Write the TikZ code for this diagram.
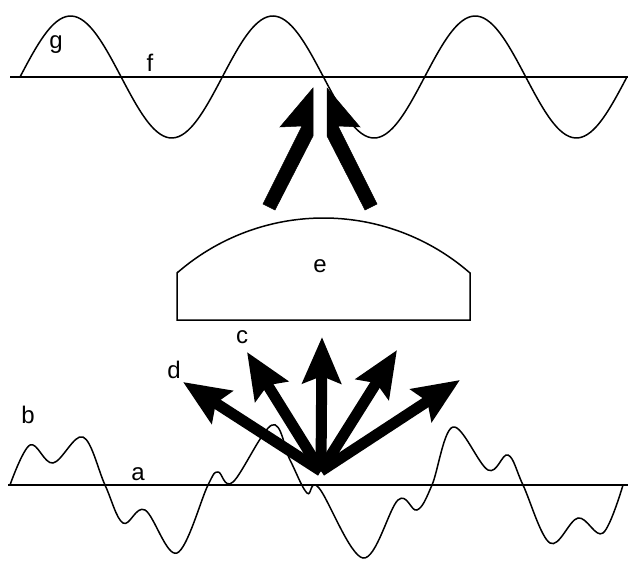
\documentclass[tikz,border=0pt]{standalone}
\usepackage{fontspec}
\setmainfont{Liberation Sans}
\usetikzlibrary{arrows.meta}
\begin{document}
\begin{tikzpicture}[x=1pt,y=-1pt,
  wave/.style={line width=1.5pt},
  axisline/.style={line width=2pt},
  bigarrow/.style={line width=11pt, -{Stealth[length=46pt,width=38pt,inset=7pt]}},
  halfarrow/.style={fill=black, draw=black, line width=0.5pt, line join=miter},
  lbl/.style={font=\fontsize{24}{26}\selectfont, inner sep=0pt}]
\useasboundingbox (0,0) rectangle (628,561);
% top wave
\draw[axisline] (10,77) -- (628,77);
\draw[wave] plot[domain=20:627,samples=200,smooth] (\x,{77-61*sin((\x-20)*1.7795)});
\node[lbl] (g) at (56,45) {g};
\node[lbl] (f) at (150,63) {f};
% lens
\draw[wave] (177,320) -- (177,273)
  -- plot[domain=-41.2:41.2,samples=60,smooth] ({323.5+222.6*sin(\x)},{440.6-222.6*cos(\x)})
  -- (470,320) -- cycle;
\node[lbl] (e) at (320,266) {e};
% top half-headed arrows
\coordinate (h1) at (313,88);
\coordinate (h2) at (327,88);
\filldraw[halfarrow] (263,204) -- (302,126) -- (280,127) -- (h1) -- (313,136) -- (275,210) -- cycle;
\filldraw[halfarrow] (377,204) -- (338,126) -- (360,127) -- (h2) -- (327,136) -- (365,210) -- cycle;
% bottom wave
\draw[axisline] (8,485) -- (628,485);
\draw[wave] plot[smooth,tension=0.6] coordinates {(10,485) (30,445) (53,463) (83,437) (105,485) (123,523) (145,510) (177,553) (208,485) (218,472) (233,482) (272,425) (290,460) (307,493) (319,488) (363,558) (398,500) (417,510) (432,485) (453,427) (488,470) (508,455) (523,485) (550,543) (578,518) (603,533) (623,485)};
\node[lbl] (b) at (28,415) {b};
\node[lbl] (a) at (138,474) {a};
% fan arrows
\coordinate (o) at (321,471);
\coordinate (dtip) at (183,382);
\coordinate (ctip) at (247,352);
\coordinate (vtip) at (322,337);
\coordinate (r1tip) at (397,350);
\coordinate (r2tip) at (460,380);
\draw[bigarrow] (o) -- (dtip);
\draw[bigarrow] (o) -- (ctip);
\draw[bigarrow] (o) -- (vtip);
\draw[bigarrow] (o) -- (r1tip);
\draw[bigarrow] (o) -- (r2tip);
\node[lbl] (c) at (242,337) {c};
\node[lbl] (d) at (174,370) {d};
\end{tikzpicture}
\end{document}
